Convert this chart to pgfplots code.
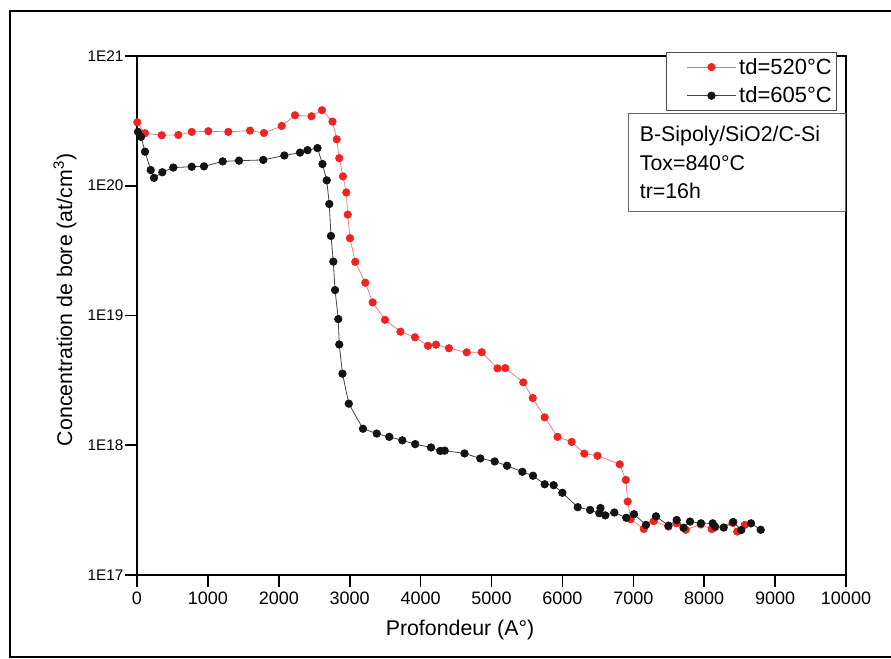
\documentclass[border=0pt]{standalone}
\usepackage{fontspec}
\setmainfont{Liberation Sans}
\usepackage{pgfplots}
\usepackage{pgfplotstable}
\pgfplotsset{compat=1.18}
\definecolor{ptred}{RGB}{240,35,35}
\definecolor{lnred}{RGB}{240,110,110}
\definecolor{ptblk}{RGB}{20,20,20}
\definecolor{lnblk}{RGB}{60,70,70}
\pgfplotstableread{
x y
4 3.08e20
113 2.54e20
348 2.45e20
583 2.46e20
772 2.60e20
1006 2.63e20
1288 2.60e20
1594 2.66e20
1791 2.55e20
2041 2.89e20
2228 3.49e20
2461 3.43e20
2609 3.82e20
2757 3.12e20
2817 2.28e20
2853 1.63e20
2905 1.18e20
2952 8.87e19
2972 5.99e19
3004 3.94e19
3079 2.59e19
3220 1.79e19
3324 1.26e19
3498 9.25e18
3716 7.50e18
3921 6.79e18
4104 5.84e18
4217 5.96e18
4400 5.59e18
4650 5.20e18
4862 5.21e18
5085 3.91e18
5194 3.93e18
5448 3.05e18
5581 2.31e18
5750 1.64e18
5931 1.16e18
6131 1.06e18
6309 8.61e17
6495 8.29e17
6808 7.13e17
6894 5.40e17
6921 3.68e17
6963 2.69e17
7148 2.26e17
7289 2.60e17
7494 2.36e17
7612 2.50e17
7740 2.23e17
7950 2.45e17
8105 2.26e17
8152 2.33e17
8399 2.52e17
8465 2.16e17
8571 2.43e17
}\redtable
\pgfplotstableread{
x y
14 2.60e20
57 2.38e20
113 1.83e20
193 1.32e20
240 1.15e20
357 1.27e20
512 1.38e20
772 1.40e20
945 1.41e20
1209 1.54e20
1439 1.56e20
1781 1.58e20
2078 1.71e20
2299 1.80e20
2405 1.88e20
2546 1.95e20
2616 1.47e20
2676 1.10e20
2712 7.23e19
2736 4.10e19
2769 2.60e19
2793 1.57e19
2839 9.39e18
2853 5.98e18
2898 3.56e18
2987 2.09e18
3187 1.34e18
3381 1.23e18
3558 1.16e18
3742 1.09e18
3924 1.02e18
4147 9.61e17
4278 9.04e17
4340 9.08e17
4619 8.64e17
4842 7.91e17
5045 7.50e17
5219 6.95e17
5435 6.24e17
5585 5.82e17
5750 5.00e17
5877 4.92e17
5999 4.30e17
6216 3.33e17
6390 3.17e17
6520 2.99e17
6537 3.28e17
6605 2.88e17
6732 3.03e17
6901 2.76e17
7010 2.94e17
7179 2.43e17
7320 2.83e17
7496 2.40e17
7612 2.65e17
7708 2.31e17
7800 2.58e17
7955 2.50e17
8120 2.50e17
8152 2.36e17
8275 2.32e17
8410 2.56e17
8523 2.22e17
8660 2.50e17
8797 2.23e17
}\blacktable
\begin{document}
\begin{tikzpicture}
\useasboundingbox (-102.75pt,-63pt) rectangle (565.5pt,431.25pt);
\begin{scope}
\clip (-102.75pt,-63pt) rectangle (565.5pt,431.25pt);
\draw[line width=1.2pt] (-95.25pt,-61.5pt) rectangle (600pt,423pt);
\end{scope}
\begin{axis}[
  at={(0pt,0pt)}, anchor=south west,
  scale only axis, width=531.75pt, height=389.25pt,
  xmin=0, xmax=10000, ymode=log, ymin=1e17, ymax=1e21,
  xtick={0,1000,...,10000},
  ytick={1e17,1e18,1e19,1e20,1e21},
  yticklabels={1E17,1E18,1E19,1E20,1E21},
  yminorticks=false,
  tick align=outside, tick pos=left,
  major tick length=9pt,
  major tick style={line width=1.2pt, black},
  axis line style={line width=1.6pt},
  scaled x ticks=false,
  /pgf/number format/assume math mode=true,
  xticklabel style={font=\fontsize{13.5}{15}\selectfont, /pgf/number format/1000 sep={}},
  yticklabel style={font=\fontsize{11.5}{13}\selectfont, inner sep=1pt},
  xlabel={Profondeur (A°)},
  xlabel style={at={(axis description cs:0.4556,-0.106)}, anchor=center, font=\fontsize{16}{19}\selectfont},
  ylabel={Concentration de bore (at/cm\textsuperscript{3})},
  ylabel style={at={(axis description cs:-0.1016,0.530)}, anchor=center, font=\fontsize{16}{19}\selectfont},
  legend style={at={(rel axis cs:0.987,1.008)}, anchor=north east, draw=black!70, line width=0.5pt,
    font=\fontsize{16.5}{19}\selectfont, row sep=4pt, inner ysep=2.5pt, inner xsep=1.5pt, cells={anchor=west}},
  legend image code/.code={\path (-0.47cm,0cm);\draw[mark repeat=2,mark phase=2] plot coordinates {(0cm,0cm)(0.65cm,0cm)(1.3cm,0cm)};},
]
\addplot[color=lnred, line width=0.5pt, mark=*, mark size=2.8pt, mark options={draw=ptred, fill=ptred}] table[x=x,y=y] {\redtable};
\addlegendentry{td=520°C}
\addplot[color=lnblk, line width=0.6pt, mark=*, mark size=2.8pt, mark options={draw=ptblk, fill=ptblk}] table[x=x,y=y] {\blacktable};
\addlegendentry{td=605°C}
\node[draw=black!60, line width=0.5pt, anchor=north east, minimum width=162.75pt, minimum height=73.5pt,
  inner xsep=8pt, align=left, text width=146pt, font=\fontsize{16}{21.4}\selectfont]
  at (rel axis cs:1,0.890) {B-Sipoly/SiO2/C-Si\\Tox=840°C\\tr=16h};
\end{axis}
\end{tikzpicture}
\end{document}
